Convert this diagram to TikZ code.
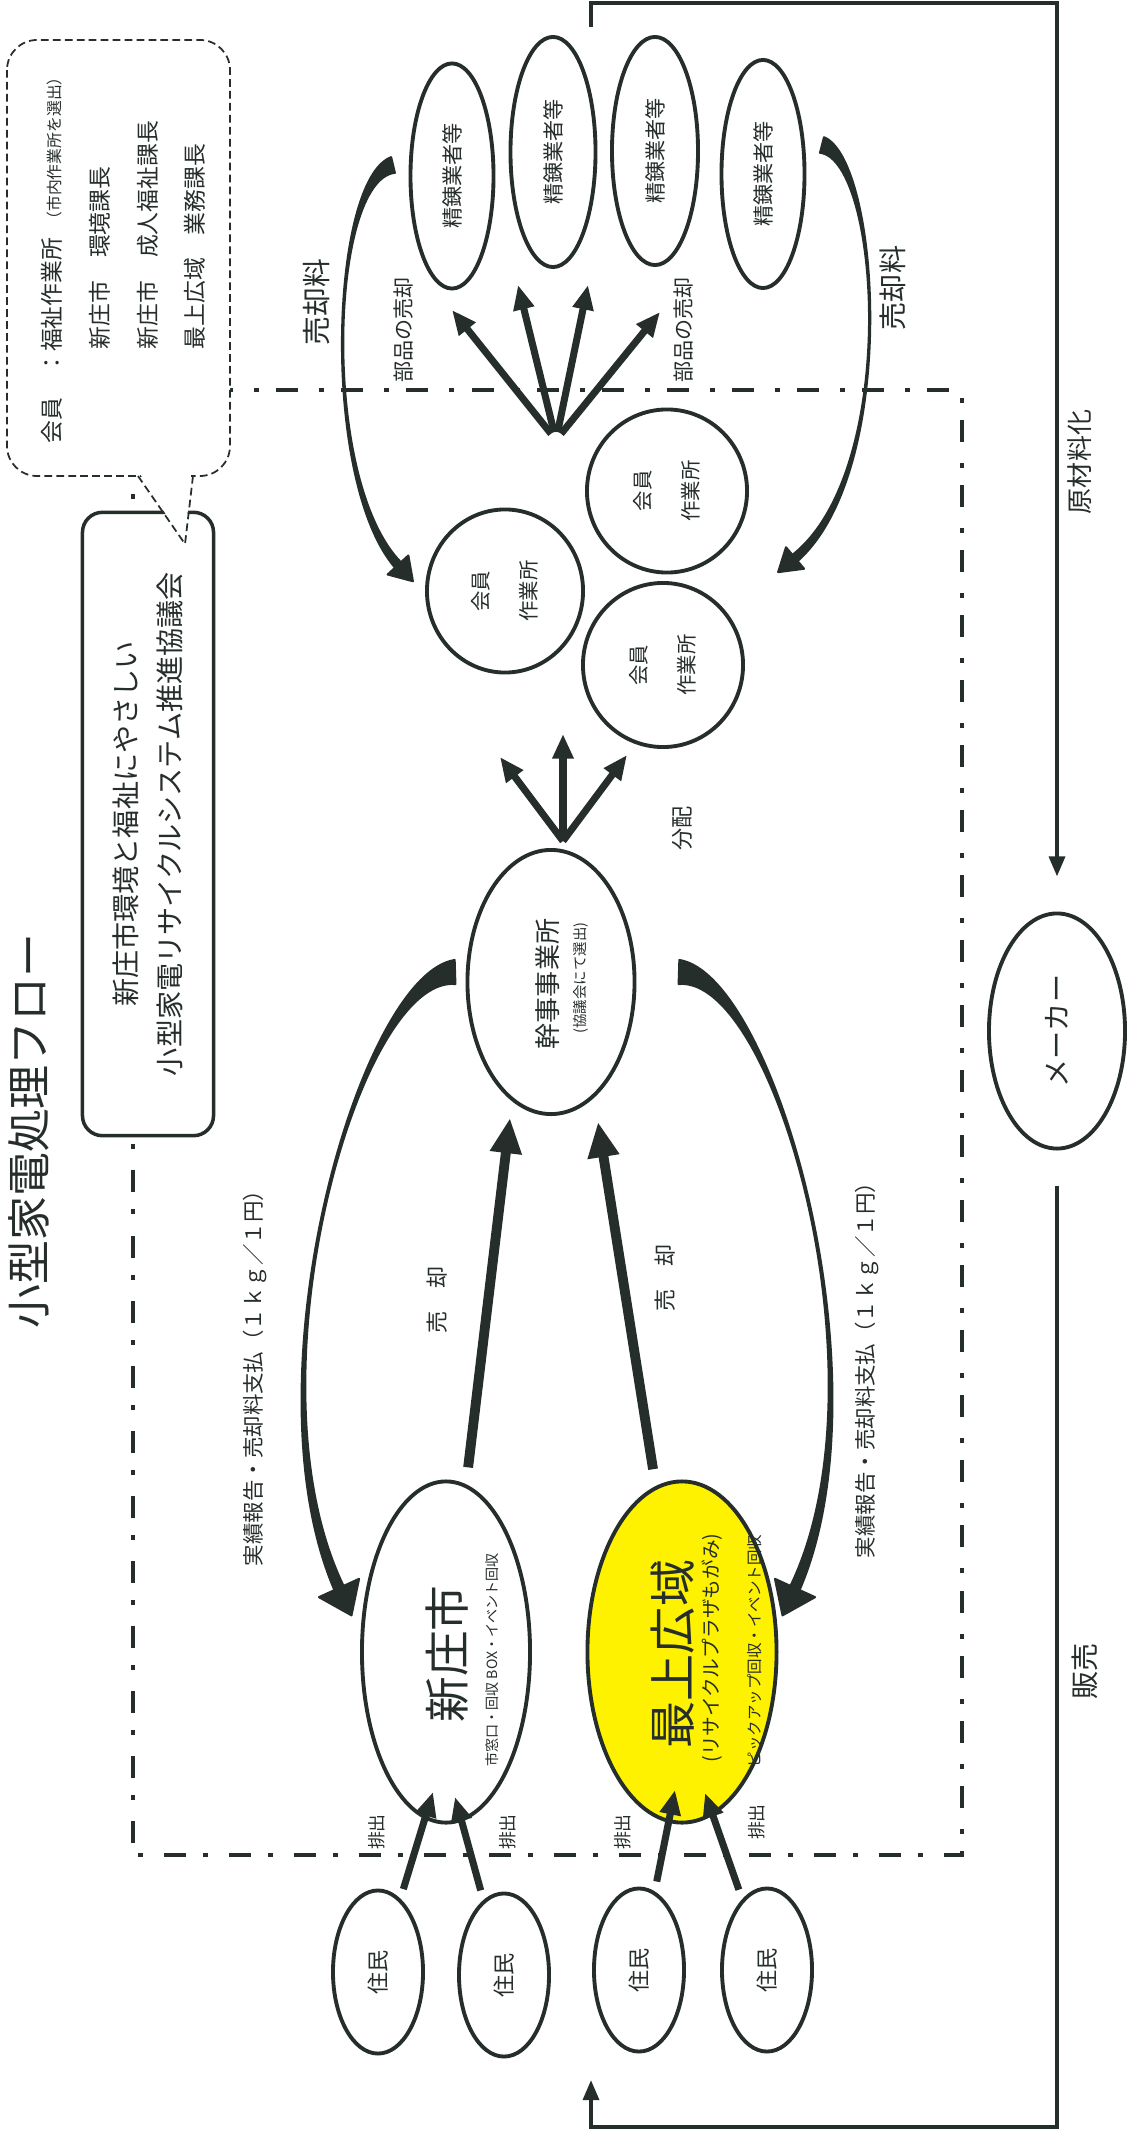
\documentclass[tikz,border=0pt]{standalone}
\usepackage{fontspec}
\setmainfont{Noto Sans CJK JP}
\usetikzlibrary{shapes.geometric,arrows.meta,calc}

\definecolor{ink}{RGB}{38,46,43}
\definecolor{plaza}{RGB}{255,242,0}

\newcommand{\setfs}[2]{\fontsize{#1}{#2}\selectfont}

% tapered curved arrow: start, control 1, control 2, end, tail half width, end half width, head half width, head length
\newcommand{\bandarrow}[8]{%
  \filldraw[band] ($(#1)!#5!90:(#2)$) .. controls (#2) and (#3) .. ($(#4)!#6!-90:(#3)$)
    -- ($(#4)!#6!90:(#3)$) .. controls (#3) and (#2) .. ($(#1)!#5!-90:(#2)$) -- cycle;
  \filldraw[band] ($(#4)!#7!-90:(#3)$) -- ($(#4)!-#8!(#3)$) -- ($(#4)!#7!90:(#3)$) -- cycle;
}

\begin{document}
\begin{tikzpicture}[x=0.01cm, y=-0.01cm,
    oval/.style={ellipse, draw=ink, line width=1.1pt, fill=white, inner sep=0pt, text=ink, rotate=90},
    lbl/.style={rotate=90, text=ink, inner sep=0pt},
    fat/.style={draw=ink, line width=2pt, -{Triangle[width=5.7pt,length=7pt]}},
    fatter/.style={draw=ink, line width=2.8pt, -{Triangle[width=8.5pt,length=10pt]}},
    loopline/.style={draw=ink, line width=1.1pt, -{Triangle[width=4.5pt,length=5.7pt]}},
    band/.style={fill=ink, draw=ink, line width=0.6pt, line join=round},
    dashdot/.style={draw=ink, line width=1pt, dash pattern=on 0.22cm off 0.17cm on 0.05cm off 0.21cm},
    bubble/.style={draw=ink, line width=0.5pt, dash pattern=on 2.2pt off 1.2pt}]

	\useasboundingbox (0,0) rectangle (1128,2134);

	% Council area
	\draw[dashdot] (133,390) rectangle (962,1855);

	% Title
	\node[lbl, font=\setfs{12.5}{14}] (title) at (29,1131) {小型家電処理フロー};

	% Council
	\node[rotate=90, draw=ink, line width=1pt, fill=white, rounded corners=0.2cm, minimum width=6.23cm, minimum height=1.31cm, align=center, text=ink, font=\setfs{8}{12.5}] (council) at (148,824) {新庄市環境と福祉にやさしい\\小型家電リサイクルシステム推進協議会};

	% Members callout
	\draw[bubble, fill=white, rounded corners=0.3cm] (7,40) rectangle (230,476);
	\fill[white] (140,474) -- (185,544) -- (191,474) -- cycle;
	\draw[bubble] (138,476) -- (185,544) -- (193,476);
	\node[lbl, anchor=west, font=\setfs{6.5}{7}] (mem0) at (52,444) {会員　：福祉作業所\hspace{0.1cm}{\setfs{4.5}{5}（市内作業所を選出）}};
	\node[lbl, anchor=west, font=\setfs{6.5}{7}] (mem1) at (100,350) {新庄市　環境課長};
	\node[lbl, anchor=west, font=\setfs{6.5}{7}] (mem2) at (148,350) {新庄市　成人福祉課長};
	\node[lbl, anchor=west, font=\setfs{6.5}{7}] (mem3) at (195,350) {最上広域　業務課長};

	% Smelters
	\node[oval, minimum width=2.25cm, minimum height=0.83cm, font=\setfs{6}{7}] (seiren1) at (452,176) {精錬業者等};
	\node[oval, minimum width=2.30cm, minimum height=0.85cm, font=\setfs{6}{7}] (seiren2) at (553,152) {精錬業者等};
	\node[oval, minimum width=2.28cm, minimum height=0.86cm, font=\setfs{6}{7}] (seiren3) at (655,151) {精錬業者等};
	\node[oval, minimum width=2.28cm, minimum height=0.83cm, font=\setfs{6}{7}] (seiren4) at (763,174) {精錬業者等};

	% Member workshops
	\node[oval, minimum width=1.63cm, minimum height=1.56cm, align=center, font=\setfs{5.8}{13.6}] (kaiin1) at (505,591) {会員\\作業所};
	\node[oval, minimum width=1.63cm, minimum height=1.60cm, align=center, font=\setfs{5.8}{13.6}] (kaiin2) at (667,491) {会員\\作業所};
	\node[oval, minimum width=1.64cm, minimum height=1.60cm, align=center, font=\setfs{5.8}{13.6}] (kaiin3) at (663,665) {会員\\作業所};

	% Managing office
	\node[oval, minimum width=2.64cm, minimum height=1.67cm] (kanji) at (551,982) {};
	\node[lbl, font=\setfs{7.4}{8}] at (548,984) {幹事事業所};
	\node[lbl, font=\setfs{4.1}{5}] at (581,978) {(協議会にて選出)};

	% Shinjo city
	\node[oval, minimum width=3.41cm, minimum height=1.68cm] (shinjo) at (446,1652) {};
	\node[lbl, font=\setfs{13}{14}] at (447,1654) {新庄市};
	\node[lbl, font=\setfs{4}{5}] at (492,1660) {市窓口・回収 BOX・イベント回収};

	% Mogami area
	\node[oval, fill=plaza, minimum width=3.41cm, minimum height=1.89cm] (mogami) at (682,1652) {};
	\node[lbl, font=\setfs{13.4}{14}] at (673,1654) {最上広域};
	\node[lbl, font=\setfs{5.6}{6}] at (712,1648) {(リサイクルプラザもがみ)};
	\node[lbl, font=\setfs{4.4}{5}] at (755,1651) {ピックアップ回収・イベント回収};

	% Residents
	\node[oval, minimum width=1.63cm, minimum height=0.9cm, font=\setfs{6.3}{7}] (jumin1) at (378,1972) {住民};
	\node[oval, minimum width=1.63cm, minimum height=0.9cm, font=\setfs{6.3}{7}] (jumin2) at (504,1975) {住民};
	\node[oval, minimum width=1.63cm, minimum height=0.9cm, font=\setfs{6.3}{7}] (jumin3) at (639,1970) {住民};
	\node[oval, minimum width=1.63cm, minimum height=0.9cm, font=\setfs{6.3}{7}] (jumin4) at (767,1970) {住民};

	% Maker
	\node[oval, minimum width=2.35cm, minimum height=1.36cm, font=\setfs{8}{9}] (maker) at (1057,1031) {メーカー};

	% Discharge from residents
	\coordinate (in1) at (433,1792);
	\coordinate (in2) at (455,1797);
	\coordinate (in3) at (675,1790);
	\coordinate (in4) at (705,1793);
	\draw[fat, shorten <=0.1cm] (jumin1) -- (in1);
	\draw[fat, shorten <=0.1cm] (jumin2) -- (in2);
	\draw[fat, shorten <=0.1cm] (jumin3) -- (in3);
	\draw[fat, shorten <=0.1cm] (jumin4) -- (in4);
	\node[lbl, font=\setfs{5.1}{6}] at (377,1832) {排出};
	\node[lbl, font=\setfs{5.1}{6}] at (508,1832) {排出};
	\node[lbl, font=\setfs{5.1}{6}] at (623,1832) {排出};
	\node[lbl, font=\setfs{5.1}{6}] at (757,1822) {排出};

	% Sale to managing office
	\coordinate (kanjiL) at (510,1118);
	\coordinate (kanjiR) at (598,1122);
	\draw[fatter, shorten <=0.17cm] (shinjo) -- (kanjiL);
	\draw[fatter, shorten <=0.17cm] (mogami) -- (kanjiR);
	\node[lbl, font=\setfs{6.3}{7}] at (437,1300) {売　却};
	\node[lbl, font=\setfs{6.3}{7}] at (665,1278) {売　却};

	% Report and payment
	\coordinate (payL0) at (455,972);
	\coordinate (payL1) at (339,1588);
	\coordinate (payR0) at (679,972);
	\coordinate (payR1) at (795,1588);
	\bandarrow{payL0}{359,975}{244,1380}{payL1}{0.12cm}{0.05cm}{0.22cm}{0.3cm}
	\bandarrow{payR0}{775,975}{890,1380}{payR1}{0.12cm}{0.05cm}{0.22cm}{0.3cm}
	\node[lbl, font=\setfs{6.1}{7}] at (255,1373) {実績報告・売却料支払（１ｋｇ／１円）};
	\node[lbl, font=\setfs{6.1}{7}] at (867,1365) {実績報告・売却料支払（１ｋｇ／１円）};

	% Distribution to workshops
	\coordinate (fanK) at (563,841);
	\coordinate (toK1) at (500,757);
	\coordinate (toK2) at (563,734);
	\coordinate (toK3) at (627,755);
	\draw[fat] (fanK) -- (toK1);
	\draw[fat] (fanK) -- (toK2);
	\draw[fat] (fanK) -- (toK3);
	\node[lbl, font=\setfs{6.3}{7}] at (682,828) {分配};

	% Parts sold to smelters
	\coordinate (fanS) at (556,440);
	\coordinate (toS1) at (452,310);
	\coordinate (toS2) at (518,285);
	\coordinate (toS3) at (588,285);
	\coordinate (toS4) at (660,312);
	\draw[fat, shorten <=0.08cm] (fanS) -- (toS1);
	\draw[fat, shorten <=0.08cm] (fanS) -- (toS2);
	\draw[fat, shorten <=0.08cm] (fanS) -- (toS3);
	\draw[fat, shorten <=0.08cm] (fanS) -- (toS4);
	\node[lbl, font=\setfs{6}{7}] at (403,330) {部品の売却};
	\node[lbl, font=\setfs{6}{7}] at (683,330) {部品の売却};

	% Sale price back to workshops
	\coordinate (sellL0) at (393,165);
	\coordinate (sellL1) at (398,565);
	\coordinate (sellR0) at (822,145);
	\coordinate (sellR1) at (795,558);
	\bandarrow{sellL0}{330,180}{320,480}{sellL1}{0.08cm}{0.04cm}{0.14cm}{0.22cm}
	\bandarrow{sellR0}{880,160}{900,470}{sellR1}{0.08cm}{0.04cm}{0.14cm}{0.22cm}
	\node[lbl, font=\setfs{8.2}{9}] at (317,302) {売却料};
	\node[lbl, font=\setfs{8}{9}] at (893,288) {売却料};

	% Raw material and sale loop
	\coordinate (matTop) at (591,27);
	\coordinate (resBot) at (591,2080);
	\draw[loopline, shorten >=0.35cm] (matTop) -- (591,3) -- (1057,3) -- (maker);
	\draw[loopline, shorten <=0.35cm] (maker) -- (1057,2127) -- (591,2127) -- (resBot);
	\node[lbl, font=\setfs{7.4}{8}] at (1080,462) {原材料化};
	\node[lbl, font=\setfs{8}{9}] at (1085,1671) {販売};
\end{tikzpicture}
\end{document}
